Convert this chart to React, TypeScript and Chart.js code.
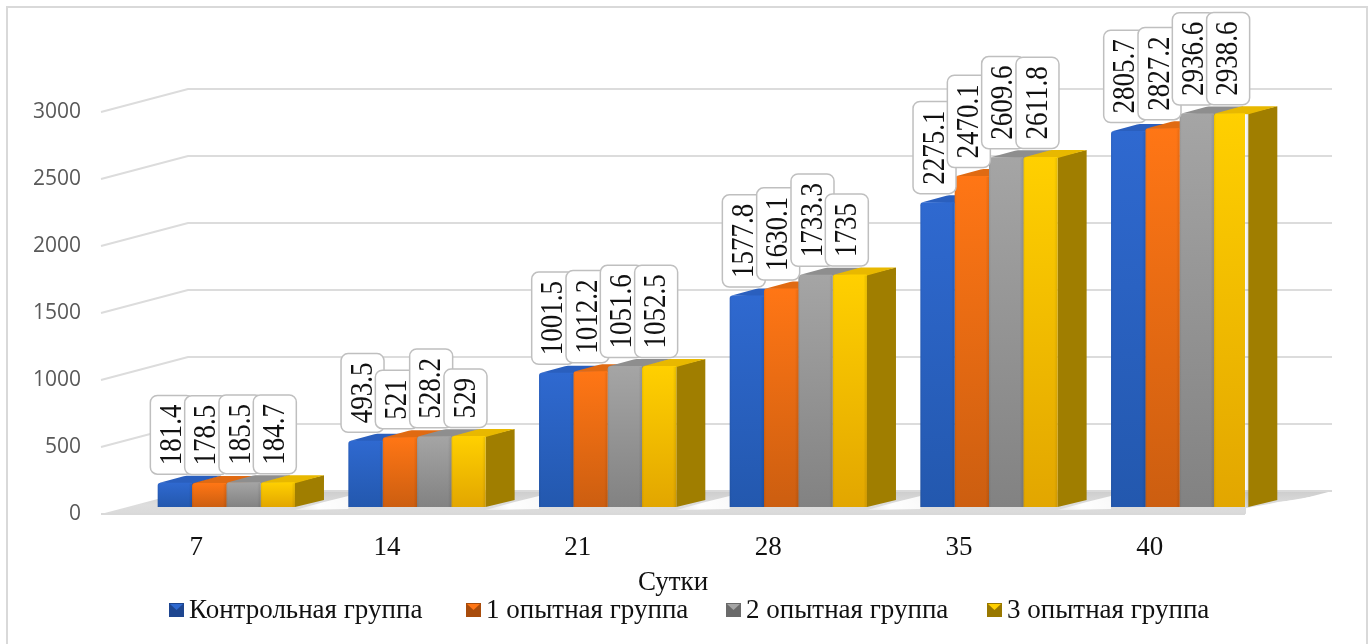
import React, { useEffect, useRef } from "react";
import { Chart, registerables } from "chart.js";

Chart.register(...registerables);

const categories = ["7", "14", "21", "28", "35", "40"];
const control = [181.4, 493.5, 1001.5, 1577.8, 2275.1, 2805.7];
const group1 = [178.5, 521, 1012.2, 1630.1, 2470.1, 2827.2];
const group2 = [185.5, 528.2, 1051.6, 1733.3, 2609.6, 2936.6];
const group3 = [184.7, 529, 1052.5, 1735, 2611.8, 2938.6];
const seriesNames = ["Контрольная группа", "1 опытная группа", "2 опытная группа", "3 опытная группа"];
const seriesValues = [control, group1, group2, group3];
const palette = [
  { top: "#2F69D0", bottom: "#2358AE", topFace: "#2A5FBE", side: "#1F4A94", dark: "#1E4690" },
  { top: "#FF7615", bottom: "#CC5E10", topFace: "#E06A12", side: "#B4530E", dark: "#A84C0C" },
  { top: "#A5A5A5", bottom: "#828282", topFace: "#8E8E8E", side: "#757575", dark: "#6A6A6A" },
  { top: "#FFD000", bottom: "#E2A600", topFace: "#E8B800", side: "#A07E00", dark: "#997800" },
];
const legendX = [169, 466, 726, 987];

const SERIF = "'Liberation Serif', serif";
const DX = 30, DY = -7, SIDE_X = 29, SIDE_Y = -7;
const WALL_X = 87, WALL_Y = -23;

const poly = (c: CanvasRenderingContext2D, pts: number[][], fill: any) => {
  c.beginPath();
  pts.forEach((p, i) => (i ? c.lineTo(p[0], p[1]) : c.moveTo(p[0], p[1])));
  c.closePath();
  c.fillStyle = fill;
  c.fill();
};

const scene = {
  id: "scene",
  beforeDraw(chart: any) {
    const { ctx: c, chartArea: a, scales } = chart;
    c.save();
    c.strokeStyle = "#D9D9D9";
    c.lineWidth = 2;
    c.strokeRect(7, 7, 1360, 660);
    // wall lines
    c.strokeStyle = "#DCDCDC";
    c.lineWidth = 2;
    for (const t of scales.y.ticks) {
      const y = scales.y.getPixelForValue(t.value);
      if (t.value === 0) continue;
      c.beginPath();
      c.moveTo(a.left, y);
      c.lineTo(a.left + WALL_X, y + WALL_Y);
      c.lineTo(a.right + WALL_X, y + WALL_Y);
      c.stroke();
    }
    // floor
    const backY = a.bottom + WALL_Y;
    const f = c.createLinearGradient(0, backY, 0, a.bottom);
    f.addColorStop(0, "#CDCDCD");
    f.addColorStop(0.6, "#DDDDDD");
    f.addColorStop(1, "#DADADA");
    poly(c, [[a.left, a.bottom], [a.right, a.bottom], [a.right + WALL_X, backY], [a.left + WALL_X, backY]], f);
    // light wedges between the groups of bars
    const last = chart.getDatasetMeta(3).data;
    const first = chart.getDatasetMeta(0).data;
    last.forEach((el: any, k: number) => {
      const r = el.x + el.width / 2;
      const next = k + 1 < first.length ? first[k + 1].x - first[k + 1].width / 2 : a.right + WALL_X + 1;
      const g = c.createLinearGradient(r, 0, next, 0);
      g.addColorStop(0, "rgba(255,255,255,0.35)");
      g.addColorStop(0.45, "rgba(255,255,255,0.98)");
      g.addColorStop(1, "rgba(255,255,255,0.85)");
      poly(c, [[r, a.bottom - 4], [r + SIDE_X, el.base + SIDE_Y + 2], [next, backY + 5], [next, a.bottom - 5]], g);
    });
    c.strokeStyle = "#D9D9D9";
    c.lineWidth = 2;
    c.beginPath();
    c.moveTo(a.left, a.bottom);
    c.lineTo(a.right, a.bottom);
    c.moveTo(a.right + WALL_X, backY);
    c.lineTo(a.left + WALL_X, backY);
    c.stroke();
    // white under the far right diagonal
    poly(c, [[a.right + 1, a.bottom + 2], [a.right + 1, a.bottom - 6], [a.right + WALL_X + 1, backY + 2], [a.right + WALL_X + 1, a.bottom + 2]], "#FFFFFF");
    c.restore();
  },
  afterDatasetsUpdate(chart: any) {
    chart.data.datasets.forEach((_: any, i: number) => {
      chart.getDatasetMeta(i).data.forEach((el: any) => {
        el.x += DX;
        el.y += DY;
        el.base += DY;
      });
    });
  },
  beforeDatasetsDraw(chart: any) {
    const c = chart.ctx;
    palette.forEach((col, i) => {
      chart.getDatasetMeta(i).data.forEach((el: any) => {
        const l = el.x - el.width / 2, r = el.x + el.width / 2;
        poly(c, [[r, el.y], [r + SIDE_X, el.y + SIDE_Y], [r + SIDE_X, el.base + SIDE_Y], [r, el.base]], col.side);
        poly(c, [[l + 2, el.y], [l + SIDE_X - 3, el.y + SIDE_Y + 0.5], [l + SIDE_X, el.y + SIDE_Y], [r + SIDE_X, el.y + SIDE_Y], [r, el.y + 1]], col.topFace);
      });
    });
  },
  afterDatasetDraw(chart: any, args: any) {
    const c = chart.ctx;
    chart.getDatasetMeta(args.index).data.forEach((el: any) => {
      const l = el.x - el.width / 2;
      const g = c.createLinearGradient(l, 0, l + el.width, 0);
      g.addColorStop(0, "rgba(0,0,0,0.08)");
      g.addColorStop(0.06, "rgba(0,0,0,0)");
      g.addColorStop(0.9, "rgba(0,0,0,0)");
      g.addColorStop(1, "rgba(0,0,0,0.1)");
      c.fillStyle = g;
      c.fillRect(l, el.y + 1, el.width, el.base - el.y - 1);
    });
  },
  afterDatasetsDraw(chart: any) {
    const c = chart.ctx;
    c.save();
    // data labels
    chart.data.datasets.forEach((ds: any, i: number) => {
      chart.getDatasetMeta(i).data.forEach((el: any, k: number) => {
        const text = String(ds.data[k]);
        c.font = `27px ${SERIF}`;
        const w = c.measureText(text).width;
        const h = w + 18, bw = 43;
        const x = el.x - 3 - bw / 2, y = el.y - 8.5 - h;
        c.beginPath();
        c.roundRect(x, y, bw, h, 7);
        c.fillStyle = "#FFFFFF";
        c.fill();
        c.strokeStyle = "#BFBFBF";
        c.lineWidth = 1.5;
        c.stroke();
        c.save();
        c.translate(x + bw / 2, y + h / 2);
        c.rotate(-Math.PI / 2);
        c.scale(1, 1.14);
        c.fillStyle = "#111111";
        c.textAlign = "center";
        c.textBaseline = "middle";
        c.fillText(text, 0, 1);
        c.restore();
      });
    });
    // legend
    seriesNames.forEach((name, i) => {
      const x = legendX[i], y = 603, s = 15, col = palette[i];
      c.fillStyle = col.dark;
      c.fillRect(x, y, s, 14);
      poly(c, [[x + 1, y + 1], [x + s - 1, y + 1], [x + s / 2, y + 7]], col.top);
      c.font = `27px ${SERIF}`;
      c.fillStyle = "#111111";
      c.textAlign = "left";
      c.textBaseline = "middle";
      c.fillText(name, x + 20, 611);
    });
    c.restore();
  },
};

export default function App() {
  const ref = useRef<HTMLCanvasElement>(null);
  useEffect(() => {
    const chart = new Chart(ref.current!, {
      type: "bar",
      data: {
        labels: categories,
        datasets: seriesValues.map((values, i) => ({
          label: seriesNames[i],
          data: values,
          categoryPercentage: 0.72,
          barPercentage: 1,
          borderRadius: { topLeft: 3, topRight: 1, bottomLeft: 0, bottomRight: 0 },
          backgroundColor: (ctx: any) => {
            const { chart: ch, parsed, dataIndex } = ctx;
            if (!parsed || !ch.chartArea) return palette[i].top;
            const yS = ch.scales.y;
            const g = ch.ctx.createLinearGradient(0, yS.getPixelForValue(values[dataIndex]) + DY, 0, yS.getPixelForValue(0) + DY);
            g.addColorStop(0, palette[i].top);
            g.addColorStop(1, palette[i].bottom);
            return g;
          },
        })),
      },
      options: {
        responsive: false,
        animation: false,
        layout: { padding: { top: 112, right: 126, left: 0, bottom: 0 } },
        plugins: { legend: { display: false }, tooltip: { enabled: false } },
        scales: {
          x: {
            grid: { display: false, drawTicks: false },
            border: { display: false },
            ticks: { color: "#111111", font: { family: SERIF, size: 27 }, padding: 18, maxRotation: 0 },
            title: { display: true, text: "Сутки", color: "#111111", font: { family: SERIF, size: 27 }, padding: { top: 0, bottom: 45 } },
            afterFit: (s: any) => { s.height = 130; },
          },
          y: {
            min: 0,
            max: 3000,
            grid: { display: false, drawTicks: false },
            border: { display: false },
            ticks: { stepSize: 500, color: "#595959", font: { family: "'Open Sans'", size: 21 }, padding: 20, callback: (v: any) => String(v) },
            afterFit: (s: any) => { s.width = 101; },
          },
        },
      },
      plugins: [scene],
    } as any);
    return () => chart.destroy();
  }, []);
  return <canvas ref={ref} width={1371} height={644} style={{ position: "fixed", left: 0, top: 0 }} />;
}
